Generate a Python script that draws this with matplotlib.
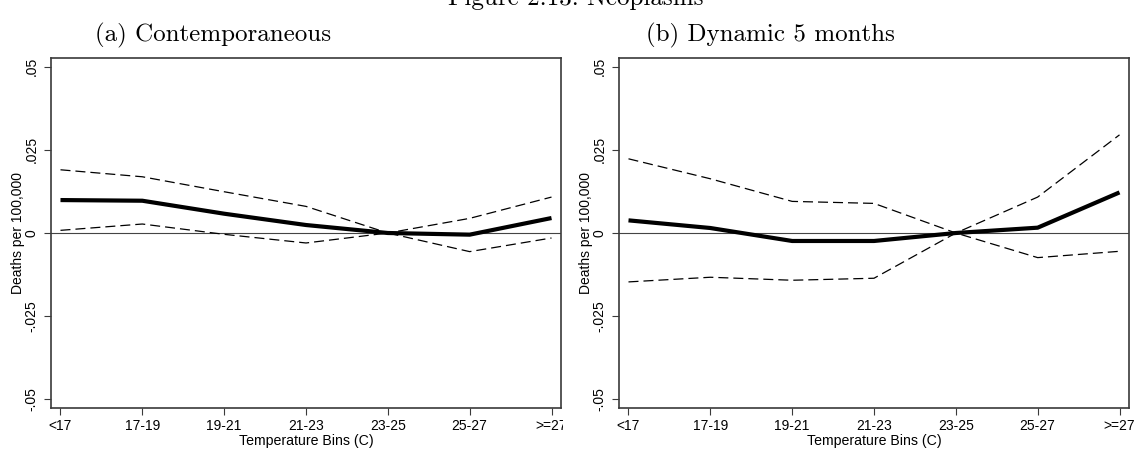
import matplotlib
matplotlib.use('Agg')
import matplotlib.pyplot as plt
from matplotlib.patches import Rectangle

# ---------------- data ----------------
bins = ['<17', '17-19', '19-21', '21-23', '23-25', '25-27', '>=27']

contemp_est = [0.0099, 0.0097, 0.0058, 0.0024, 0.0, -0.0005, 0.0045]
contemp_upper = [0.0190, 0.0169, 0.0124, 0.0080, 0.0, 0.0044, 0.0108]
contemp_lower = [0.0008, 0.0027, -0.0004, -0.0030, 0.0, -0.0056, -0.0015]

dyn_est = [0.0038, 0.0015, -0.0024, -0.0024, 0.0, 0.0016, 0.0122]
dyn_upper = [0.0223, 0.0163, 0.0095, 0.0089, 0.0, 0.0108, 0.0295]
dyn_lower = [-0.0147, -0.0133, -0.0142, -0.0136, 0.0, -0.0074, -0.0055]

ytick_vals = [-0.05, -0.025, 0, 0.025, 0.05]
ytick_labels = ['-.05', '-.025', '0', '.025', '.05']

fig_title = 'Figure 2.13: Neoplasms'
panel_titles = ['(a) Contemporaneous', '(b) Dynamic 5 months']
ylabel = 'Deaths per 100,000'
xlabel = 'Temperature Bins (C)'

# ---------------- layout ----------------
W, H = 1142, 454
fig = plt.figure(figsize=(W / 100, H / 100), dpi=100)
sans = ['Liberation Sans', 'DejaVu Sans']
serif = ['cmr10', 'DejaVu Serif']


def ax_at(x0, x1, y0, y1):
    return fig.add_axes([x0 / W, 1 - y1 / H, (x1 - x0) / W, (y1 - y0) / H])


panels = [
    (ax_at(51, 561, 58, 408), contemp_est, contemp_upper, contemp_lower, 213),
    (ax_at(619, 1129, 58, 408), dyn_est, dyn_upper, dyn_lower, 770),
]

spine_col = '#3a3a3a'
for (ax, est, up, lo, tx), title in zip(panels, panel_titles):
    x = list(range(len(bins)))
    ax.axhline(0, color='#444444', lw=0.8, zorder=1)
    ax.plot(x, up, color='black', lw=0.9, ls=(0, (8, 4)), zorder=2)
    ax.plot(x, lo, color='black', lw=0.9, ls=(0, (8, 4)), zorder=2)
    ax.plot(x, est, color='black', lw=3.0, zorder=3, solid_capstyle='butt')
    ax.set_xlim(-0.116, len(bins) - 1 + 0.116)
    ax.set_ylim(-0.0526, 0.0526)
    ax.set_xticks(x)
    ax.set_xticklabels(bins, fontfamily=sans, fontsize=10)
    ax.set_yticks(ytick_vals)
    ax.set_yticklabels(ytick_labels, rotation=90, va='center',
                       fontfamily=sans, fontsize=10)
    ax.tick_params(length=5, width=0.8, color=spine_col, pad=3)
    ax.tick_params(axis='y', pad=4)
    for s in ax.spines.values():
        s.set_color(spine_col)
        s.set_linewidth(1.2)
    ax.set_ylabel(ylabel, fontfamily=sans, fontsize=10, labelpad=-0.5)
    ax.set_xlabel(xlabel, fontfamily=sans, fontsize=10.2, labelpad=0.5)
    fig.text(tx / W, 1 - 41 / H, title, fontfamily=serif, fontsize=18,
             ha='center', va='baseline')

fig.text(576 / W, 1 - 5 / H, fig_title, fontfamily=serif, fontsize=18,
         ha='center', va='baseline')

# the left panel image was cropped at its right edge
fig.patches.append(Rectangle((563 / W, 1 - 436 / H), 35 / W, 24 / H,
                             transform=fig.transFigure, facecolor='white',
                             edgecolor='none', zorder=5))

fig.savefig('out.png', dpi=100, facecolor='white')
